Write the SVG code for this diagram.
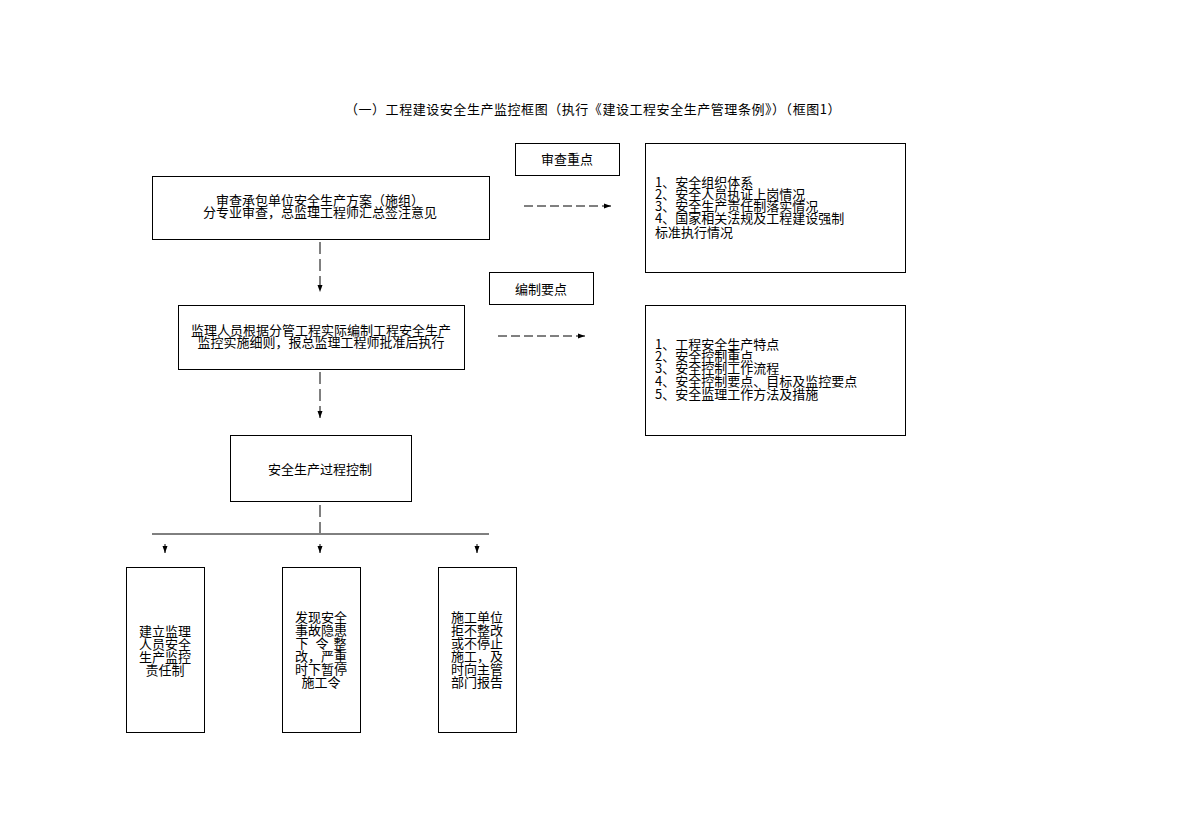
<svg xmlns="http://www.w3.org/2000/svg" width="1186" height="840" viewBox="0 0 1186 840">
<style>
text{font-family:"Noto Sans CJK SC","Liberation Sans",sans-serif;font-size:13px;fill:#000}
.c{text-anchor:middle}
.box{fill:#fff;stroke:#000;stroke-width:1}
.dash{fill:none;stroke:#000;stroke-width:1;stroke-dasharray:9 4}
.vd{fill:none;stroke:#000;stroke-width:1;stroke-dasharray:12 5}
.ln{fill:none;stroke:#000;stroke-width:1}
</style>
<defs>
<marker id="ah" markerWidth="8" markerHeight="6" refX="7" refY="3" orient="auto" markerUnits="userSpaceOnUse">
<path d="M0,0.5 L7,3 L0,5.5 Z" fill="#000"/>
</marker>
</defs>
<rect width="1186" height="840" fill="#fff"/>
<text class="c" x="593" y="114" style="letter-spacing:0.55px">（一）工程建设安全生产监控框图（执行《建设工程安全生产管理条例》）（框图1）</text>

<g id="connectors">
<path class="dash" d="M524,206 H611" marker-end="url(#ah)"/>
<path class="dash" d="M498,336 H585" marker-end="url(#ah)"/>
<path class="vd" d="M320,242 V292" marker-end="url(#ah)"/>
<path class="vd" d="M320,372 V418" marker-end="url(#ah)"/>
<path class="vd" d="M320,505 V533"/>
<path class="ln" d="M152,534 H489"/>
<path class="ln" d="M165,544 V553" marker-end="url(#ah)"/>
<path class="ln" d="M320,544 V553" marker-end="url(#ah)"/>
<path class="ln" d="M477,544 V553" marker-end="url(#ah)"/>
</g>

<g id="n1">
<rect class="box" x="152.5" y="176.5" width="337" height="63"/>
<text class="c"><tspan x="320" y="205">审查承包单位安全生产方案（施组）</tspan><tspan x="320" y="217">分专业审查，总监理工程师汇总签注意见</tspan></text>
</g>
<g id="n_review">
<rect class="box" x="515.5" y="143.5" width="104" height="32"/>
<text class="c" x="567" y="164">审查重点</text>
</g>
<g id="n_review_list">
<rect class="box" x="645.5" y="143.5" width="260" height="129"/>
<text><tspan x="655" y="187">1、安全组织体系</tspan><tspan x="655" y="199">2、安全人员执证上岗情况</tspan><tspan x="655" y="211">3、安全生产责任制落实情况</tspan><tspan x="655" y="223">4、国家相关法规及工程建设强制</tspan><tspan x="655" y="237">标准执行情况</tspan></text>
</g>
<g id="n_compile">
<rect class="box" x="489.5" y="272.5" width="104" height="32"/>
<text class="c" x="541" y="294">编制要点</text>
</g>
<g id="n2">
<rect class="box" x="178.5" y="305.5" width="286" height="64"/>
<text class="c"><tspan x="321" y="335">监理人员根据分管工程实际编制工程安全生产</tspan><tspan x="321" y="347">监控实施细则，报总监理工程师批准后执行</tspan></text>
</g>
<g id="n_compile_list">
<rect class="box" x="645.5" y="305.5" width="260" height="130"/>
<text><tspan x="655" y="349">1、工程安全生产特点</tspan><tspan x="655" y="361">2、安全控制重点</tspan><tspan x="655" y="373">3、安全控制工作流程</tspan><tspan x="655" y="386">4、安全控制要点、目标及监控要点</tspan><tspan x="655" y="399">5、安全监理工作方法及措施</tspan></text>
</g>
<g id="n3">
<rect class="box" x="230.5" y="435.5" width="181" height="66"/>
<text class="c" x="320" y="474">安全生产过程控制</text>
</g>
<g id="b1">
<rect class="box" x="126.5" y="567.5" width="78" height="165"/>
<text class="c"><tspan x="165" y="636">建立监理</tspan><tspan x="165" y="649">人员安全</tspan><tspan x="165" y="662">生产监控</tspan><tspan x="165" y="675">责任制</tspan></text>
</g>
<g id="b2">
<rect class="box" x="282.5" y="567.5" width="78" height="165"/>
<text class="c"><tspan x="321" y="622">发现安全</tspan><tspan x="321" y="635">事故隐患</tspan><tspan x="302" y="648">下</tspan><tspan x="322" y="648">令</tspan><tspan x="340" y="648">整</tspan><tspan x="321" y="661">改，严重</tspan><tspan x="321" y="674">时下暂停</tspan><tspan x="321" y="687">施工令</tspan></text>
</g>
<g id="b3">
<rect class="box" x="438.5" y="567.5" width="78" height="165"/>
<text class="c"><tspan x="477" y="622">施工单位</tspan><tspan x="477" y="635">拒不整改</tspan><tspan x="477" y="648">或不停止</tspan><tspan x="477" y="661">施工，及</tspan><tspan x="477" y="674">时向主管</tspan><tspan x="477" y="687">部门报告</tspan></text>
</g>
</svg>
